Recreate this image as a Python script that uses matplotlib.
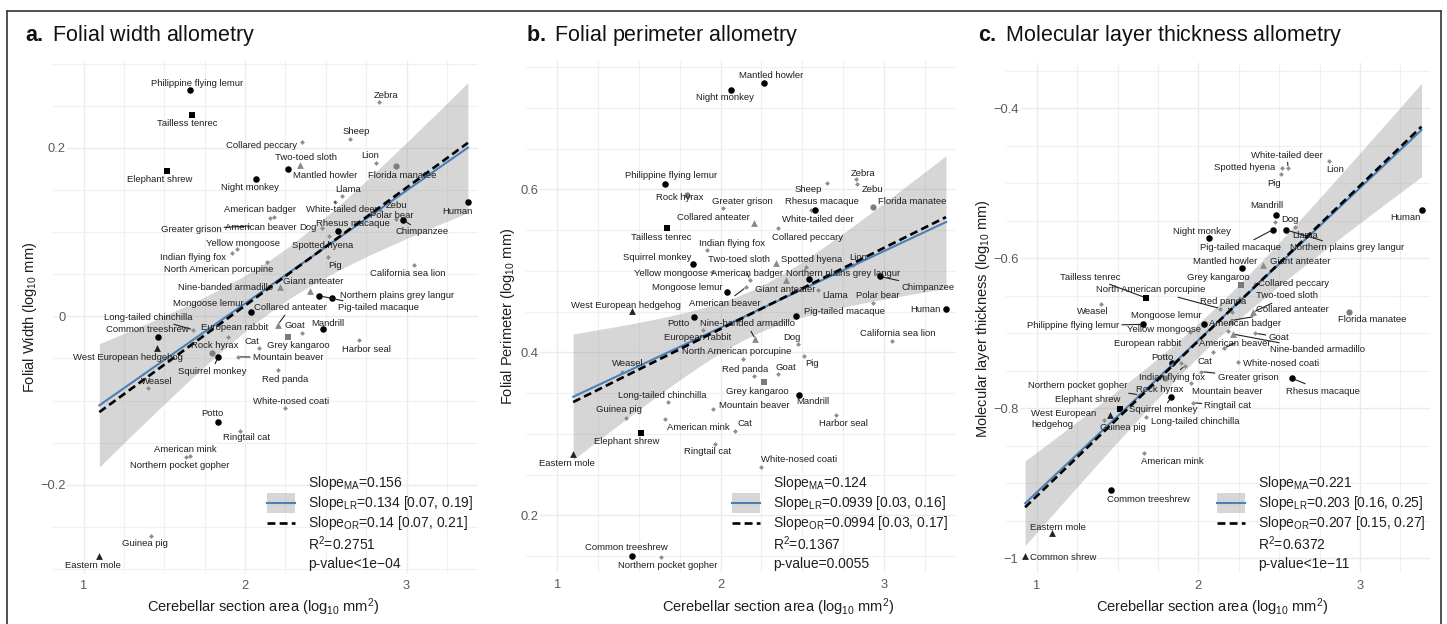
import numpy as np
import matplotlib.pyplot as plt
from matplotlib.lines import Line2D
from matplotlib.patches import Rectangle

plt.rcParams['font.family'] = 'Liberation Sans'
plt.rcParams['mathtext.fontset'] = 'custom'
plt.rcParams['mathtext.rm'] = 'Liberation Sans'
plt.rcParams['mathtext.it'] = 'Liberation Sans:italic'
plt.rcParams['mathtext.bf'] = 'Liberation Sans:bold'

# --- data: log10 cerebellar section area and log10 folial measures --------
species = [
    'Philippine flying lemur', 'Tailless tenrec', 'Zebra', 'Sheep', 'Collared peccary',
    'Two-toed sloth', 'Lion', 'Florida manatee', 'Elephant shrew', 'Mantled howler',
    'Night monkey', 'Llama', 'Human', 'American badger', 'White-tailed deer',
    'Zebu', 'Greater grison', 'American beaver', 'Dog', 'Rhesus macaque',
    'Polar bear', 'Chimpanzee', 'Yellow mongoose', 'Spotted hyena', 'Indian flying fox',
    'North American porcupine', 'Pig', 'California sea lion', 'Giant anteater',
    'Nine-banded armadillo', 'Northern plains grey langur', 'Pig-tailed macaque',
    'Mongoose lemur', 'Collared anteater', 'Long-tailed chinchilla', 'Common treeshrew',
    'European rabbit', 'Goat', 'Mandrill', 'Cat', 'Grey kangaroo', 'Harbor seal',
    'Rock hyrax', 'West European hedgehog', 'Mountain beaver', 'Squirrel monkey',
    'Weasel', 'Red panda', 'White-nosed coati', 'Potto', 'Ringtail cat',
    'American mink', 'Northern pocket gopher', 'Guinea pig', 'Eastern mole',
    'Common shrew',
]
area = np.array([
    1.658, 1.673, 2.830, 2.650, 2.350, 2.337, 2.810, 2.932, 1.515, 2.267,
    2.066, 2.598, 3.380, 2.180, 2.555, 2.838, 2.017, 2.157, 2.476, 2.578,
    2.935, 2.976, 1.950, 2.520, 1.918, 2.135, 2.512, 3.048, 2.400, 2.213,
    2.540, 2.460, 2.036, 2.203, 1.679, 1.458, 1.893, 2.351, 2.480, 2.088,
    2.264, 2.708, 1.793, 1.455, 1.955, 1.833, 1.397, 2.205, 2.246, 1.834,
    1.966, 1.661, 1.635, 1.418, 1.097, 0.928,
])
nan = np.nan
folial_width = np.array([
    0.268, 0.2385, 0.254, 0.2104, 0.207, 0.180, 0.182, 0.178, 0.172, 0.175,
    0.163, 0.143, 0.1356, 0.118, 0.136, 0.126, 0.107, 0.117, 0.105, 0.1015,
    0.116, 0.1146, 0.080, 0.0948, 0.075, 0.0644, 0.0703, 0.061, 0.0306, 0.035,
    0.0216, 0.0243, 0.0057, -0.010, -0.016, -0.025, -0.024, -0.020, -0.0152, -0.038,
    -0.024, -0.028, -0.044, -0.038, -0.048, -0.048, -0.0853, -0.064, -0.109, -0.126,
    -0.136, -0.166, -0.167, -0.261, -0.284, nan,
])
folial_perimeter = np.array([
    0.607, 0.552, 0.612, 0.608, 0.552, 0.510, 0.507, 0.578, 0.301, 0.730,
    0.722, 0.477, 0.453, 0.489, 0.574, 0.606, 0.577, 0.480, 0.410, 0.575,
    0.461, 0.493, 0.498, 0.505, 0.525, 0.3914, 0.396, 0.414, 0.489, 0.416,
    0.490, 0.4445, 0.4744, 0.559, 0.3386, 0.150, 0.427, 0.373, 0.348, 0.304,
    0.364, 0.323, 0.593, 0.451, 0.331, 0.508, 0.376, 0.371, 0.259, 0.443,
    0.2875, 0.318, 0.149, 0.320, 0.275, nan,
])
molecular_layer = np.array([
    -0.688, -0.6525, nan, nan, -0.634, -0.672, -0.470, -0.671, -0.801, -0.613,
    -0.5725, -0.558, -0.535, -0.697, -0.480, nan, -0.751, -0.720, -0.551, -0.760,
    nan, nan, -0.698, -0.480, -0.743, -0.667, -0.4876, nan, -0.609, -0.701,
    -0.562, -0.562, -0.6876, -0.683, -0.811, -0.909, -0.740, -0.700, -0.542, -0.7253,
    -0.6356, nan, -0.760, -0.809, -0.7667, -0.7845, -0.661, -0.672, -0.7387, -0.740,
    -0.7925, -0.860, -0.782, -0.8156, -0.9667, -0.997,
])

# fitted lines: slopes as reported, intercepts of the fitted lines
slope_ma = [0.156, 0.124, 0.221]
slope_lr = [0.134, 0.0939, 0.203]
lr_ci = [(0.07, 0.19), (0.03, 0.16), (0.16, 0.25)]
slope_or = [0.14, 0.0994, 0.207]
or_ci = [(0.07, 0.21), (0.03, 0.17), (0.15, 0.27)]
icpt_lr = [-0.2527, 0.2424, -1.1151]
icpt_or = [-0.2673, 0.2299, -1.1241]
band_h0 = [0.031, 0.028, 0.022]
r_squared = ['0.2751', '0.1367', '0.6372']
p_text = ['p-value<1e\u221204', 'p-value=0.0055', 'p-value<1e\u221211']

# marker groups
black_circle = ['Philippine flying lemur', 'Mantled howler', 'Night monkey', 'Human',
                'Rhesus macaque', 'Chimpanzee', 'Northern plains grey langur',
                'Pig-tailed macaque', 'Mongoose lemur', 'Common treeshrew', 'Mandrill',
                'Squirrel monkey', 'Potto']
black_square = ['Tailless tenrec', 'Elephant shrew']
grey_square = ['Grey kangaroo']
grey_circle = ['Florida manatee', 'Rock hyrax']
grey_triangle = ['Two-toed sloth', 'Giant anteater', 'Nine-banded armadillo', 'Collared anteater']
black_triangle = ['West European hedgehog', 'Eastern mole', 'Common shrew']

# --- label placement (figure pixels, from top-left) -----------------------
lab_a = {
    'Philippine flying lemur': (197, 84), 'Tailless tenrec': (187, 124), 'Zebra': (386, 96),
    'Sheep': (356, 132), 'Collared peccary': (261, 145), 'Two-toed sloth': (306, 158),
    'Lion': (370, 156), 'Florida manatee': (402, 175), 'Elephant shrew': (160, 180),
    'Mantled howler': (325, 175), 'Night monkey': (250, 187), 'Llama': (348, 189),
    'Human': (457, 212), 'American badger': (260, 209), 'White-tailed deer': (342, 210),
    'Zebu': (397, 205), 'Greater grison': (191, 229), 'American beaver': (261, 227),
    'Dog': (308, 228), 'Rhesus macaque': (353, 224), 'Polar bear': (392, 215),
    'Chimpanzee': (422, 232), 'Yellow mongoose': (243, 243), 'Spotted hyena': (323, 245),
    'Indian flying fox': (193, 257), 'North American porcupine': (219, 269), 'Pig': (335, 265),
    'California sea lion': (408, 273), 'Giant anteater': (313, 282),
    'Nine-banded armadillo': (226, 287), 'Northern plains grey langur': (397, 295),
    'Pig-tailed macaque': (378, 308), 'Mongoose lemur': (208, 303),
    'Collared anteater': (290, 308), 'Long-tailed chinchilla': (148, 317),
    'Common treeshrew': (147, 330), 'European rabbit': (235, 328), 'Goat': (295, 326),
    'Mandrill': (328, 323), 'Cat': (252, 341), 'Grey kangaroo': (298, 345),
    'Harbor seal': (366, 349), 'Rock hyrax': (215, 346), 'West European hedgehog': (128, 357),
    'Mountain beaver': (288, 358), 'Squirrel monkey': (212, 371), 'Weasel': (157, 381),
    'Red panda': (285, 379), 'White-nosed coati': (291, 401), 'Potto': (212, 414),
    'Ringtail cat': (247, 438), 'American mink': (185, 449),
    'Northern pocket gopher': (180, 466), 'Guinea pig': (145, 544), 'Eastern mole': (93, 565),
}
seg_a = ['Greater grison', 'White-tailed deer', 'Chimpanzee', 'Collared anteater',
         'Pig-tailed macaque', 'Long-tailed chinchilla', 'Mountain beaver', 'Squirrel monkey']

lab_b = {
    'Mantled howler': (771, 76), 'Night monkey': (725, 98), 'Philippine flying lemur': (671, 176),
    'Zebra': (863, 173), 'Sheep': (808, 189), 'Zebu': (872, 189), 'Rock hyrax': (680, 198),
    'Greater grison': (742, 202), 'Rhesus macaque': (822, 202), 'Florida manatee': (912, 202),
    'Collared anteater': (713, 217), 'White-tailed deer': (818, 219),
    'Tailless tenrec': (661, 237), 'Collared peccary': (808, 237),
    'Indian flying fox': (732, 244), 'Squirrel monkey': (657, 257),
    'Two-toed sloth': (739, 259), 'Spotted hyena': (812, 259), 'Lion': (858, 258),
    'Yellow mongoose': (671, 273), 'American badger': (747, 273),
    'Northern plains grey langur': (843, 273), 'Chimpanzee': (928, 287),
    'Mongoose lemur': (687, 287), 'Giant anteater': (785, 290), 'Llama': (835, 296),
    'Polar bear': (878, 296), 'West European hedgehog': (626, 305),
    'American beaver': (725, 303), 'Pig-tailed macaque': (845, 311), 'Human': (925, 309),
    'Potto': (678, 324), 'Nine-banded armadillo': (747, 324), 'European rabbit': (698, 338),
    'California sea lion': (898, 333), 'Dog': (792, 337),
    'North American porcupine': (737, 352), 'Weasel': (628, 364), 'Pig': (812, 363),
    'Red panda': (745, 369), 'Goat': (786, 367), 'Grey kangaroo': (757, 391),
    'Long-tailed chinchilla': (662, 395), 'Mandrill': (813, 402),
    'Mountain beaver': (754, 405), 'Guinea pig': (619, 410), 'Harbor seal': (843, 423),
    'American mink': (698, 428), 'Cat': (745, 424), 'Elephant shrew': (627, 441),
    'Ringtail cat': (708, 452), 'Eastern mole': (567, 463), 'White-nosed coati': (799, 459),
    'Common treeshrew': (626, 548), 'Northern pocket gopher': (668, 566),
}
seg_b = ['American beaver', 'Nine-banded armadillo', 'Chimpanzee', 'American badger']

lab_c = {
    'White-tailed deer': (1287, 155), 'Lion': (1335, 169), 'Spotted hyena': (1245, 168),
    'Pig': (1274, 183), 'Mandrill': (1267, 206), 'Dog': (1290, 220), 'Human': (1405, 218),
    'Night monkey': (1202, 231), 'Llama': (1305, 235), 'Pig-tailed macaque': (1240, 247),
    'Northern plains grey langur': (1347, 248), 'Mantled howler': (1225, 261),
    'Giant anteater': (1300, 262), 'Grey kangaroo': (1218, 277),
    'Collared peccary': (1293, 283), 'Tailless tenrec': (1090, 277),
    'North American porcupine': (1151, 290), 'Red panda': (1223, 301),
    'Two-toed sloth': (1287, 296), 'Weasel': (1093, 312), 'Collared anteater': (1292, 310),
    'Florida manatee': (1372, 319), 'Mongoose lemur': (1166, 316),
    'Philippine flying lemur': (1073, 326), 'Yellow mongoose': (1164, 330),
    'American badger': (1245, 323), 'Goat': (1279, 337), 'European rabbit': (1148, 343),
    'American beaver': (1235, 343), 'Nine-banded armadillo': (1318, 350),
    'Potto': (1162, 357), 'Cat': (1205, 361), 'White-nosed coati': (1281, 363),
    'Indian flying fox': (1172, 377), 'Greater grison': (1248, 377),
    'Rhesus macaque': (1323, 391), 'Northern pocket gopher': (1078, 386),
    'Rock hyrax': (1160, 390), 'Mountain beaver': (1227, 392), 'Elephant shrew': (1088, 399),
    'Squirrel monkey': (1163, 410), 'Ringtail cat': (1228, 406),
    'West European hedgehog': (1064, 419), 'Guinea pig': (1123, 428),
    'Long-tailed chinchilla': (1195, 421), 'American mink': (1172, 462),
    'Common treeshrew': (1148, 499), 'Eastern mole': (1058, 527), 'Common shrew': (1063, 557),
}
seg_c = ['White-tailed deer', 'Pig-tailed macaque', 'Northern plains grey langur',
         'Tailless tenrec', 'North American porcupine', 'Red panda', 'Two-toed sloth',
         'Collared anteater', 'Philippine flying lemur', 'Goat', 'Nine-banded armadillo',
         'Greater grison', 'Rhesus macaque', 'Northern pocket gopher', 'Squirrel monkey',
         'Ringtail cat', 'Indian flying fox', 'American beaver']

W, H = 1447, 624
fig = plt.figure(figsize=(W / 100, H / 100), dpi=100)
fig.patch.set_facecolor('white')


def fx(px):
    return px / W


def fy(py):
    return 1 - py / H


band_col = '#999999'
blue = '#4a80b8'
grey_pt = '#8e8e8e'
txt_col = '#1f1f1f'


def style_of(name):
    if name in black_circle:
        return dict(marker='o', color='black', s=22)
    if name in black_square:
        return dict(marker='s', color='black', s=20)
    if name in grey_square:
        return dict(marker='s', color='#7a7a7a', s=20)
    if name in grey_circle:
        return dict(marker='o', color='#7d7d7d', s=20)
    if name in grey_triangle:
        return dict(marker='^', color='#8a8a8a', s=24)
    if name in black_triangle:
        return dict(marker='^', color='#222222', s=24)
    return dict(marker='D', color=grey_pt, s=6)


def fmt_tick(v):
    return f'{v:g}'.replace('-', '\u2212')


def draw_panel(i, rect, xlim, ylim, yticks, yvals, labels, segs, title, ylab,
               xlab_x, ylab_x, leg_x, key_x):
    l, t, r, b = rect
    ax = fig.add_axes([fx(l), fy(b), fx(r) - fx(l), (b - t) / H])
    for s in ax.spines.values():
        s.set_visible(False)
    ax.set_xticks([1, 2, 3])
    ax.set_xticklabels(['1', '2', '3'])
    ax.set_xticks(np.arange(0.75, 3.6, 0.25), minor=True)
    ax.set_yticks(yticks)
    ax.set_yticklabels([fmt_tick(v) for v in yticks])
    ax.set_yticks(np.arange(-1.2, 1.0, 0.05), minor=True)
    ax.set_xlim(*xlim)
    ax.set_ylim(*ylim)
    ax.grid(True, which='major', color='#ebebeb', lw=1.0)
    ax.grid(True, which='minor', color='#f0f0f0', lw=0.8)
    ax.set_axisbelow(True)
    ax.tick_params(which='both', length=0)
    ax.tick_params(axis='x', labelsize=9.3, labelcolor='#5a5a5a', pad=5)
    ax.tick_params(axis='y', labelsize=9.3, labelcolor='#5a5a5a', pad=-9)
    for lbl in ax.get_yticklabels():
        lbl.set_bbox(dict(facecolor='white', edgecolor='none', pad=1.0))

    # confidence band around the least-squares line
    ok = ~np.isnan(yvals)
    xs_d = area[ok]
    xbar = xs_d.mean()
    xs = np.linspace(xs_d.min(), xs_d.max(), 200)
    k = (lr_ci[i][1] - lr_ci[i][0]) / 2
    fit_lr = icpt_lr[i] + slope_lr[i] * xs
    half = np.sqrt(band_h0[i] ** 2 + (k * (xs - xbar)) ** 2)
    ax.fill_between(xs, fit_lr - half, fit_lr + half, color=band_col, alpha=0.4,
                    lw=0, zorder=2)

    for name, xv, yv in zip(species, area, yvals):
        if np.isnan(yv):
            continue
        st = style_of(name)
        ax.scatter([xv], [yv], marker=st['marker'], c=st['color'], s=st['s'],
                   linewidths=0, zorder=3)

    ax.plot(xs, fit_lr, color=blue, lw=1.5, zorder=4)
    ax.plot(xs, icpt_or[i] + slope_or[i] * xs, color='black', lw=1.9,
            ls=(0, (3.0, 1.6)), zorder=5)

    for name, xv, yv in zip(species, area, yvals):
        if np.isnan(yv) or name not in labels:
            continue
        lx, ly = labels[name]
        text = 'West European\nhedgehog' if (name == 'West European hedgehog' and i == 2) else name
        kw = dict(xy=(xv, yv), xytext=(lx, H - ly), textcoords='figure pixels',
                  ha='center', va='center', fontsize=6.8, color=txt_col, zorder=6,
                  annotation_clip=False)
        if text != name:
            kw['multialignment'] = 'left'
        if name in segs:
            kw['arrowprops'] = dict(arrowstyle='-', color='#222222', lw=0.8,
                                    shrinkA=0, shrinkB=2)
        ax.annotate(text, **kw)

    # title and axis titles
    fig.text(fx(title[1]), fy(35), r'$\mathbf{' + title[0] + r'.}$ ' + title[2],
             fontsize=15.5, va='center', ha='left', color='#111111')
    fig.text(fx(xlab_x), fy(607), r'Cerebellar section area (log$_{10}$ mm$^2$)',
             fontsize=10.5, ha='center', va='center', color=txt_col)
    fig.text(fx(ylab_x), fy((t + b) / 2), ylab, rotation=90, fontsize=10.5,
             ha='center', va='center', color=txt_col)

    # statistics legend
    rows = [483, 503, 523, 544, 564]
    kx0, kx1 = key_x
    fig.add_artist(Rectangle((fx(kx0), fy(513)), fx(kx1) - fx(kx0), 20 / H,
                             transform=fig.transFigure, facecolor=band_col,
                             alpha=0.4, edgecolor='none'))
    fig.add_artist(Line2D([fx(kx0), fx(kx1)], [fy(503), fy(503)],
                          transform=fig.transFigure, color=blue, lw=1.5))
    fig.add_artist(Line2D([fx(kx0), fx(kx1)], [fy(523), fy(523)],
                          transform=fig.transFigure, color='black', lw=1.9,
                          ls=(0, (3.0, 1.6))))
    leg = [
        r'Slope$_{\mathrm{MA}}$=' + f'{slope_ma[i]:g}',
        r'Slope$_{\mathrm{LR}}$=' + f'{slope_lr[i]:g} [{lr_ci[i][0]:g}, {lr_ci[i][1]:g}]',
        r'Slope$_{\mathrm{OR}}$=' + f'{slope_or[i]:g} [{or_ci[i][0]:g}, {or_ci[i][1]:g}]',
        r'R$^2$=' + r_squared[i],
        p_text[i],
    ]
    for yy, s in zip(rows, leg):
        fig.text(fx(leg_x), fy(yy), s, fontsize=10, ha='left', va='center', color=txt_col)
    return ax


draw_panel(0, (53, 61, 477.6, 573.3), (0.81, 3.44), (-0.305, 0.303), [-0.2, 0, 0.2],
           folial_width, lab_a, seg_a, ('a', 25, 'Folial width allometry'),
           r'Folial Width (log$_{10}$ mm)', 263, 30, 308, (267, 295))
draw_panel(1, (526.3, 61.3, 955.8, 572.4), (0.81, 3.44), (0.13, 0.757), [0.2, 0.4, 0.6],
           folial_perimeter, lab_b, seg_b, ('b', 526, 'Folial perimeter allometry'),
           r'Folial Perimeter (log$_{10}$ mm)', 778, 508, 773, (732, 760))
draw_panel(2, (1006, 63.3, 1429.6, 573.3), (0.81, 3.43), (-1.02, -0.34), [-1, -0.8, -0.6, -0.4],
           molecular_layer, lab_c, seg_c, ('c', 978, 'Molecular layer thickness allometry'),
           r'Molecular layer thickness (log$_{10}$ mm)', 1212, 983, 1258, (1217, 1245))

# outer frame
for xs_, ys_ in [([7, 7], [11, 624]), ([7, 1441], [11, 11]), ([1441, 1441], [11, 624])]:
    fig.add_artist(Line2D([fx(v) for v in xs_], [fy(v) for v in ys_],
                          transform=fig.transFigure, color='#333333', lw=1.2))

fig.savefig('out.png', dpi=100, facecolor='white')
